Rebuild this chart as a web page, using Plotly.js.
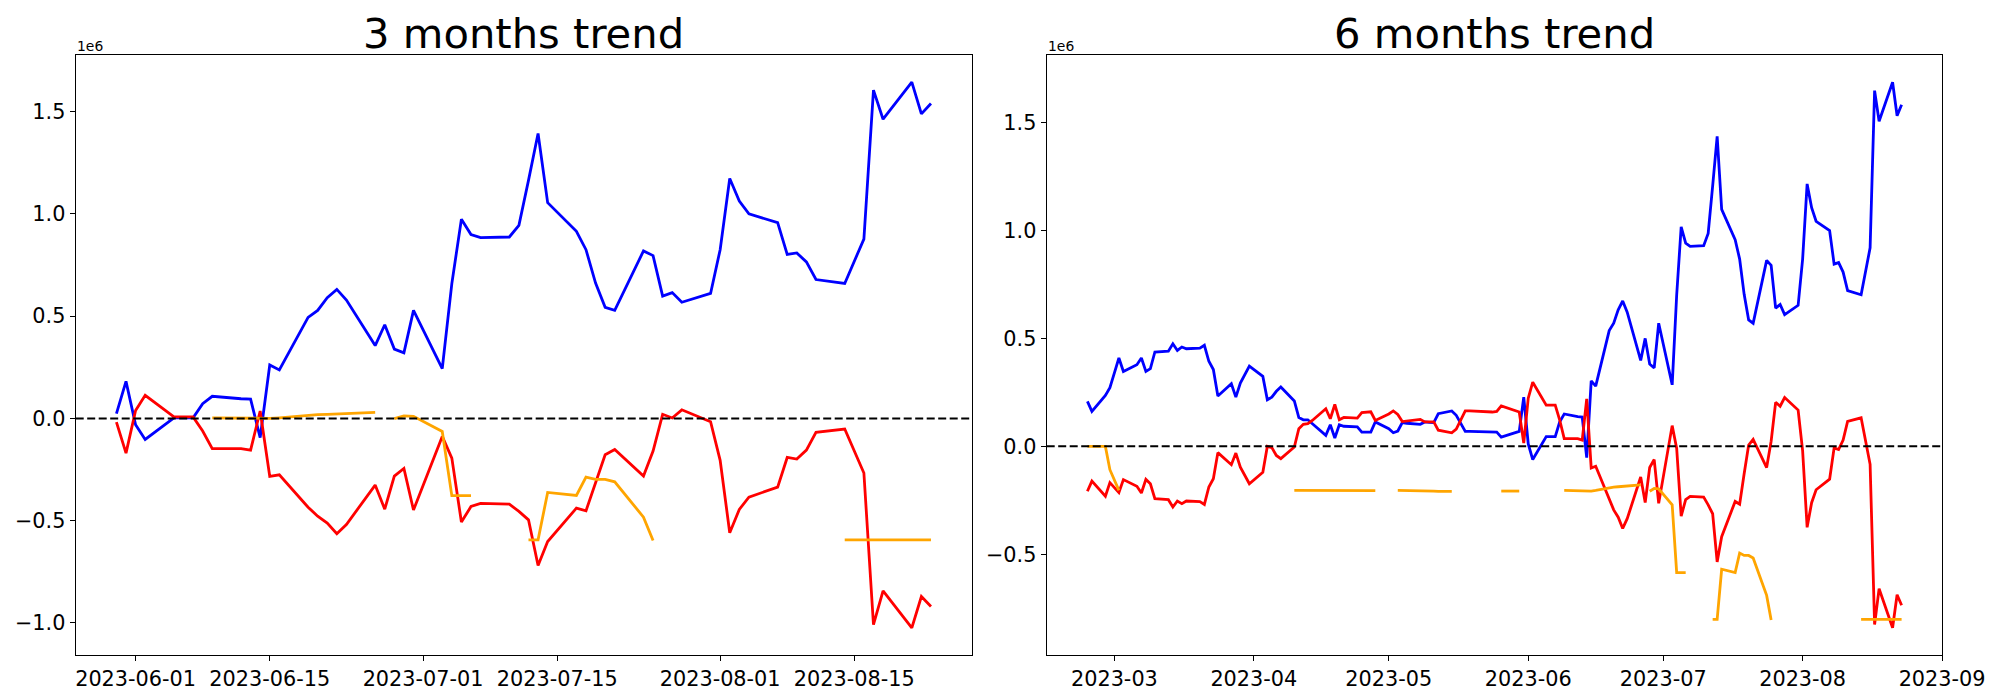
<!DOCTYPE html>
<html>
<head>
<meta charset="utf-8">
<script src="https://cdn.plot.ly/plotly-3.0.1.min.js"></script>
<style>html,body{margin:0;padding:0;background:#fff;}#chart{width:2000px;height:700px;}</style>
</head>
<body>
<div id="chart"></div>
<script>
// ---- values are in units of 1e6 (axis offset label "1e6") ----
const titles = ["3 months trend", "6 months trend"];
const offsetLabel = "1e6";

// ---------- 3 months panel ----------
const dates3m = ["2023-05-30","2023-05-31","2023-06-01","2023-06-02","2023-06-05","2023-06-06","2023-06-07","2023-06-08","2023-06-09",
"2023-06-12","2023-06-13","2023-06-14","2023-06-15","2023-06-16","2023-06-19","2023-06-20","2023-06-21","2023-06-22","2023-06-23",
"2023-06-26","2023-06-27","2023-06-28","2023-06-29","2023-06-30","2023-07-03","2023-07-04","2023-07-05","2023-07-06","2023-07-07",
"2023-07-10","2023-07-11","2023-07-12","2023-07-13","2023-07-14","2023-07-17","2023-07-18","2023-07-19","2023-07-20","2023-07-21",
"2023-07-24","2023-07-25","2023-07-26","2023-07-27","2023-07-28","2023-07-31","2023-08-01","2023-08-02","2023-08-03","2023-08-04",
"2023-08-07","2023-08-08","2023-08-09","2023-08-10","2023-08-11","2023-08-14","2023-08-16","2023-08-17","2023-08-18",
"2023-08-21","2023-08-22","2023-08-23"];

const blue3m = [0.023,0.181,-0.031,-0.103,0.003,0.003,0.003,0.072,0.108,
0.096,0.094,-0.094,0.261,0.237,0.494,0.528,0.590,0.631,0.579,
0.356,0.458,0.339,0.321,0.528,0.243,0.659,0.974,0.899,0.884,
0.887,0.944,1.164,1.393,1.055,0.915,0.825,0.662,0.543,0.528,
0.819,0.796,0.598,0.615,0.568,0.611,0.825,1.173,1.063,1.000,
0.957,0.802,0.809,0.765,0.679,0.660,0.877,1.605,1.463,
1.644,1.489,1.540];

const red3m = [-0.018,-0.170,0.039,0.113,0.007,0.007,0.007,-0.062,-0.148,
-0.148,-0.155,0.036,-0.284,-0.276,-0.434,-0.478,-0.512,-0.564,-0.519,
-0.326,-0.444,-0.282,-0.245,-0.448,-0.088,-0.194,-0.507,-0.431,-0.416,
-0.419,-0.455,-0.496,-0.719,-0.602,-0.439,-0.452,-0.311,-0.178,-0.152,
-0.282,-0.160,0.020,0.002,0.042,-0.016,-0.205,-0.559,-0.445,-0.385,
-0.336,-0.191,-0.199,-0.155,-0.068,-0.052,-0.267,-1.009,-0.843,
-1.024,-0.871,-0.920];

const orange3m = [null,null,null,null,null,null,null,null,0.003,
0.002,0.001,0.000,0.000,0.003,0.016,0.018,0.020,0.022,0.024,
0.029,null,-0.001,0.012,0.010,-0.064,-0.378,-0.378,-0.378,null,
null,null,-0.594,-0.594,-0.362,-0.377,-0.287,-0.298,-0.298,-0.310,
-0.483,-0.597,null,null,null,null,null,null,null,null,
null,null,null,null,null,-0.594,-0.594,-0.594,-0.594,
-0.594,-0.594,-0.594];

const ticks3m = ["2023-06-01","2023-06-15","2023-07-01","2023-07-15","2023-08-01","2023-08-15"];

// ---------- 6 months panel ----------
const dates6m = ["2023-02-23","2023-02-24","2023-02-27","2023-02-28",
"2023-03-01","2023-03-02","2023-03-03","2023-03-06","2023-03-07","2023-03-08","2023-03-09","2023-03-10",
"2023-03-13","2023-03-14","2023-03-15","2023-03-16","2023-03-17","2023-03-20","2023-03-21","2023-03-22","2023-03-23","2023-03-24",
"2023-03-27","2023-03-28","2023-03-29","2023-03-30","2023-03-31",
"2023-04-03","2023-04-04","2023-04-05","2023-04-06","2023-04-07","2023-04-10","2023-04-11","2023-04-12","2023-04-13","2023-04-14",
"2023-04-17","2023-04-18","2023-04-19","2023-04-20","2023-04-21","2023-04-24","2023-04-25","2023-04-26","2023-04-27","2023-04-28",
"2023-05-01","2023-05-02","2023-05-03","2023-05-04","2023-05-05","2023-05-08","2023-05-09","2023-05-10","2023-05-11","2023-05-12",
"2023-05-15","2023-05-16","2023-05-17","2023-05-18","2023-05-19","2023-05-22","2023-05-23","2023-05-24","2023-05-25","2023-05-26",
"2023-05-30","2023-05-31",
"2023-06-01","2023-06-02","2023-06-05","2023-06-06","2023-06-07","2023-06-08","2023-06-09",
"2023-06-12","2023-06-13","2023-06-14","2023-06-15","2023-06-16","2023-06-19","2023-06-20","2023-06-21","2023-06-22","2023-06-23",
"2023-06-26","2023-06-27","2023-06-28","2023-06-29","2023-06-30","2023-07-03","2023-07-04","2023-07-05","2023-07-06","2023-07-07",
"2023-07-10","2023-07-11","2023-07-12","2023-07-13","2023-07-14","2023-07-17","2023-07-18","2023-07-19","2023-07-20","2023-07-21",
"2023-07-24","2023-07-25","2023-07-26","2023-07-27","2023-07-28","2023-07-31","2023-08-01","2023-08-02","2023-08-03","2023-08-04",
"2023-08-07","2023-08-08","2023-08-09","2023-08-10","2023-08-11","2023-08-14","2023-08-16","2023-08-17","2023-08-18",
"2023-08-21","2023-08-22","2023-08-23"];

const blue6m = [0.208,0.162,0.236,0.272,
0.340,0.409,0.347,0.378,0.409,0.347,0.360,0.437,
0.441,0.475,0.444,0.460,0.452,0.455,0.468,0.394,0.356,0.233,
0.290,0.228,0.293,0.336,0.372,
0.324,0.216,0.228,0.255,0.275,0.210,0.133,0.123,0.123,0.105,
0.051,0.100,0.039,0.100,0.093,0.090,0.066,0.066,0.066,0.113,
0.082,0.063,0.071,0.110,0.107,0.102,0.113,0.111,0.110,0.151,
0.164,0.144,0.105,0.069,0.069,0.069,0.069,0.069,0.066,0.043,
0.069,0.228,
0.011,-0.061,0.045,0.045,0.045,0.114,0.150,
0.138,0.136,-0.052,0.303,0.279,0.536,0.570,0.632,0.673,0.621,
0.398,0.500,0.381,0.363,0.570,0.285,0.701,1.016,0.941,0.926,
0.929,0.986,1.206,1.435,1.097,0.957,0.867,0.704,0.585,0.570,
0.861,0.838,0.640,0.657,0.610,0.653,0.867,1.215,1.105,1.042,
0.999,0.844,0.851,0.807,0.721,0.702,0.919,1.647,1.505,
1.686,1.531,1.582];

const red6m = [-0.208,-0.161,-0.231,-0.168,
-0.191,-0.214,-0.154,-0.185,-0.216,-0.153,-0.173,-0.242,
-0.247,-0.281,-0.253,-0.265,-0.253,-0.256,-0.269,-0.188,-0.150,-0.029,
-0.085,-0.031,-0.096,-0.134,-0.173,
-0.120,0.000,-0.006,-0.042,-0.057,-0.003,0.082,0.102,0.105,0.120,
0.174,0.128,0.194,0.123,0.134,0.131,0.156,0.159,0.160,0.120,
0.150,0.164,0.148,0.115,0.118,0.125,0.113,0.113,0.113,0.075,
0.063,0.080,0.120,0.164,0.164,0.162,0.160,0.159,0.162,0.187,
0.159,0.015,
0.223,0.297,0.191,0.191,0.191,0.122,0.036,
0.036,0.029,0.220,-0.100,-0.092,-0.250,-0.294,-0.328,-0.380,-0.335,
-0.142,-0.260,-0.098,-0.061,-0.264,0.096,-0.010,-0.323,-0.247,-0.232,
-0.235,-0.271,-0.312,-0.535,-0.418,-0.255,-0.268,-0.127,0.006,0.032,
-0.098,0.024,0.204,0.186,0.226,0.168,-0.021,-0.375,-0.261,-0.201,
-0.152,-0.007,-0.015,0.029,0.116,0.132,-0.083,-0.825,-0.659,
-0.840,-0.687,-0.736];

const orange6m = [0.000,0.000,0.000,-0.108,
-0.156,-0.204,null,null,null,null,null,null,
null,null,null,null,null,null,null,null,null,null,
null,null,null,null,null,
null,null,null,null,null,-0.204,-0.204,-0.204,-0.204,-0.204,
-0.204,-0.204,-0.206,-0.205,-0.205,-0.205,-0.205,-0.205,-0.205,-0.205,
null,null,-0.204,-0.204,-0.204,-0.204,-0.204,-0.205,-0.207,-0.208,
-0.208,null,null,null,null,null,null,null,null,-0.207,
-0.207,null,
null,null,null,null,null,null,-0.204,
-0.205,-0.206,-0.207,-0.207,-0.204,-0.191,-0.189,-0.187,-0.185,-0.183,
-0.178,null,-0.208,-0.195,-0.197,-0.271,-0.585,-0.585,-0.585,null,
null,null,-0.801,-0.801,-0.569,-0.584,-0.494,-0.505,-0.505,-0.517,
-0.690,-0.804,null,null,null,null,null,null,null,null,
null,null,null,null,null,-0.801,-0.801,-0.801,-0.801,
-0.801,-0.801,-0.801];

const ticks6m = ["2023-03-01","2023-04-01","2023-05-01","2023-06-01","2023-07-01","2023-08-01","2023-09-01"];

const seriesColors = ["#0000ff", "#ff0000", "#ffa500"];

// ---------- build ----------
const FONT = "DejaVu Sans, Liberation Sans, sans-serif";
function mk(x, y, color, xa, ya) {
  return {x: x, y: y, type: "scatter", mode: "lines", xaxis: xa, yaxis: ya,
          connectgaps: false, line: {color: color, width: 2.8}, hoverinfo: "skip"};
}
const traces = [
  mk(dates3m, blue3m, seriesColors[0], "x", "y"),
  mk(dates3m, red3m, seriesColors[1], "x", "y"),
  mk(dates3m, orange3m, seriesColors[2], "x", "y"),
  mk(dates6m, blue6m, seriesColors[0], "x2", "y2"),
  mk(dates6m, red6m, seriesColors[1], "x2", "y2"),
  mk(dates6m, orange6m, seriesColors[2], "x2", "y2")
];

const W = 2000, H = 700;
const dom1 = [75.7 / W, 971.7 / W];
const dom2 = [1046.7 / W, 1942.3 / W];
const ydom = [(H - 655) / H, (H - 55) / H];

const axBase = {
  showline: true, mirror: true, linecolor: "#000", linewidth: 1.1,
  showgrid: false, zeroline: false, ticks: "outside", ticklen: 5, tickwidth: 1.1, tickcolor: "#000",
  tickfont: {family: FONT, size: 20.8, color: "#000"}, fixedrange: true
};

const layout = {
  width: W, height: H,
  margin: {l: 0, r: 0, t: 0, b: 0},
  paper_bgcolor: "#fff", plot_bgcolor: "#fff",
  showlegend: false, hovermode: false,
  font: {family: FONT, color: "#000"},
  xaxis: Object.assign({}, axBase, {domain: dom1, anchor: "y", type: "date",
    range: ["2023-05-25 18:00", "2023-08-27 06:00"], tickmode: "array", tickvals: ticks3m, tickformat: "%Y-%m-%d"}),
  yaxis: Object.assign({}, axBase, {domain: ydom, anchor: "x",
    range: [-1.157, 1.777], tickmode: "linear", tick0: 0, dtick: 0.5, tickformat: ".1f"}),
  xaxis2: Object.assign({}, axBase, {domain: dom2, anchor: "y2", type: "date",
    range: ["2023-02-13 22:48", "2023-09-01 01:12"], tickmode: "array", tickvals: ticks6m, tickformat: "%Y-%m"}),
  yaxis2: Object.assign({}, axBase, {domain: ydom, anchor: "x2",
    range: [-0.966, 1.812], tickmode: "linear", tick0: 0, dtick: 0.5, tickformat: ".1f"}),
  shapes: [
    {type: "line", xref: "x domain", yref: "y", x0: 0, x1: 1, y0: 0, y1: 0, layer: "above",
     line: {color: "#000", width: 2, dash: "8px,3.5px"}},
    {type: "line", xref: "x2 domain", yref: "y2", x0: 0, x1: 1, y0: 0, y1: 0, layer: "above",
     line: {color: "#000", width: 2, dash: "8px,3.5px"}}
  ],
  annotations: [
    {text: titles[0], xref: "paper", yref: "paper", x: (dom1[0] + dom1[1]) / 2, y: (H - 33) / H,
     xanchor: "center", yanchor: "middle", showarrow: false, font: {family: FONT, size: 41.7, color: "#000"}},
    {text: titles[1], xref: "paper", yref: "paper", x: (dom2[0] + dom2[1]) / 2, y: (H - 33) / H,
     xanchor: "center", yanchor: "middle", showarrow: false, font: {family: FONT, size: 41.7, color: "#000"}},
    {text: offsetLabel, xref: "paper", yref: "paper", x: dom1[0], y: ydom[1], xanchor: "left", yanchor: "bottom",
     showarrow: false, borderpad: 0, font: {family: FONT, size: 13.9, color: "#000"}},
    {text: offsetLabel, xref: "paper", yref: "paper", x: dom2[0], y: ydom[1], xanchor: "left", yanchor: "bottom",
     showarrow: false, borderpad: 0, font: {family: FONT, size: 13.9, color: "#000"}}
  ]
};

Plotly.newPlot("chart", traces, layout, {displayModeBar: false, staticPlot: true});
</script>
</body>
</html>
